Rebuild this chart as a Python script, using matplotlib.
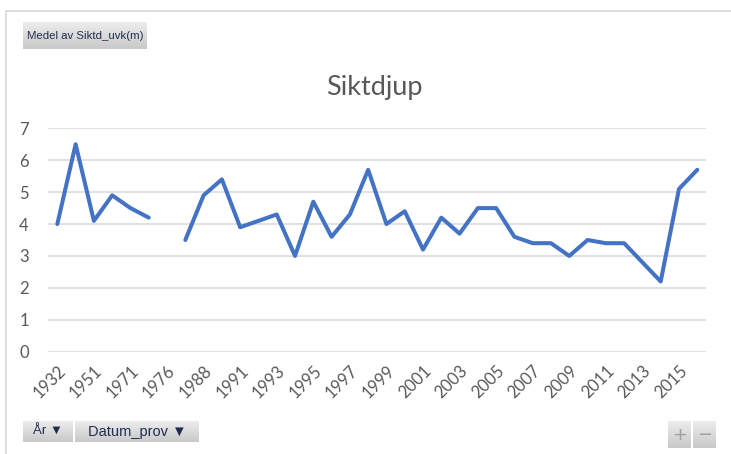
import numpy as np
import matplotlib
matplotlib.use("Agg")
import matplotlib.pyplot as plt

# mean Secchi depth (m) per sample, category axis labelled every other year
values = [4.0, 6.5, 4.1, 4.9, 4.5, 4.2, np.nan, 3.5, 4.9, 5.4, 3.9, 4.1,
          4.3, 3.0, 4.7, 3.6, 4.3, 5.7, 4.0, 4.4, 3.2, 4.2, 3.7, 4.5,
          4.5, 3.6, 3.4, 3.4, 3.0, 3.5, 3.4, 3.4, 2.8, 2.2, 5.1, 5.7]
year_labels = ['1932', '1951', '1971', '1976', '1988', '1991', '1993', '1995',
               '1997', '1999', '2001', '2003', '2005', '2007', '2009', '2011',
               '2013', '2015']
title = "Siktdjup"
value_button = "Medel av Siktd_uvk(m)"
axis_buttons = ["År ▼", "Datum_prov ▼"]

W, H = 731, 454
fig = plt.figure(figsize=(W / 100, H / 100), dpi=100)
fig.patch.set_facecolor("white")


def px_axes(x0, y0, x1, y1):
    # axes placed in pixel coords measured from top-left
    return fig.add_axes([x0 / W, 1 - y1 / H, (x1 - x0) / W, (y1 - y0) / H])


def button(x0, y0, x1, y1, text=None, color="#1f2d4f", size=9, family=None):
    ax = px_axes(x0, y0, x1, y1)
    grad = np.linspace(0, 1, 50).reshape(-1, 1)
    ax.imshow(grad, aspect="auto", cmap=matplotlib.colors.LinearSegmentedColormap.from_list(
        "g", ["#ececec", "#c9c9c9"]), extent=[0, 1, 0, 1], origin="upper")
    ax.set_xlim(0, 1)
    ax.set_ylim(0, 1)
    ax.axis("off")
    if text is not None:
        ax.text(0.5, 0.48, text, ha="center", va="center", color=color,
                fontsize=size, family=family or ["Liberation Sans", "DejaVu Sans"])
    return ax


# chart frame lines
frame = fig.add_axes([0, 0, 1, 1])
frame.set_xlim(0, W)
frame.set_ylim(H, 0)
frame.axis("off")
frame.plot([6, W], [11, 11], color="#d9d9d9", lw=1.2)
frame.plot([6, 6], [11, H], color="#d9d9d9", lw=1.2)

# main plot
ax = px_axes(48.2, 128.3, 706.4, 351.7)
x = np.arange(len(values))
ax.plot(x, values, color="#4472c4", lw=2.9, solid_capstyle="round", solid_joinstyle="round")
ax.set_xlim(-0.5, len(values) - 0.5)
ax.set_ylim(0, 7)
ax.set_yticks(range(0, 8))
ax.set_xticks(x[::2])
ax.set_xticklabels(year_labels, rotation=45, ha="right", rotation_mode="anchor")
ax.grid(axis="y", color="#d9d9d9", lw=1.1)
ax.set_axisbelow(True)
for s in ax.spines.values():
    s.set_visible(False)
ax.tick_params(length=0, labelcolor="#595959", labelsize=12)
ax.tick_params(axis="y", pad=14)
ax.tick_params(axis="x", pad=8)
for lab in ax.get_xticklabels() + ax.get_yticklabels():
    lab.set_family("Lato")

fig.text(374.5 / W, 1 - 87 / H, title, ha="center", va="center", fontsize=19.5,
         color="#595959", family="Lato")

# pivot field buttons
button(23, 22, 147, 49, value_button, size=8.2)
button(23, 421, 73, 442, axis_buttons[0], size=9.5)
button(75, 421, 199, 442, axis_buttons[1], size=10.5)
button(668, 421, 691, 448, "+", color="#a0a0a0", size=13, family="DejaVu Sans")
button(693, 421, 716, 448, "−", color="#a0a0a0", size=13, family="DejaVu Sans")

fig.savefig("out.png", dpi=100)
